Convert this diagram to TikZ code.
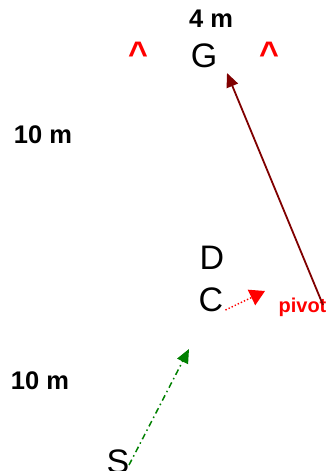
\documentclass[tikz,border=0pt]{standalone}
\usepackage{fontspec}
\setmainfont{Liberation Sans}
\usetikzlibrary{arrows.meta}
\definecolor{maroonc}{RGB}{128,0,0}
\definecolor{greenc}{RGB}{0,128,0}
\definecolor{redc}{RGB}{255,0,0}
\begin{document}
\begin{tikzpicture}[x=1pt,y=-1pt,
  lbl/.style={font=\fontsize{34}{34}\selectfont, inner sep=0pt, text=black},
  dist/.style={font=\bfseries\fontsize{25.5}{25.5}\selectfont, inner sep=0pt},
  caret/.style={font=\bfseries\fontsize{34}{34}\selectfont, inner sep=0pt, text=redc},
  tip/.style={-{Triangle[length=14pt,width=12pt]}}]
\useasboundingbox (0,0) rectangle (328,471);
\node[dist] (d4) at (211,19) {4 m};
\node[lbl] (G) at (204,56) {G};
\node[caret, anchor=north] (c1) at (138,42) {\^{}};
\node[caret, anchor=north] (c2) at (269,42) {\^{}};
\node[dist] (d10a) at (43,135) {10 m};
\node[dist] (d10b) at (40,381) {10 m};
\node[lbl] (D) at (212,258) {D};
\node[lbl] (C) at (211,300) {C};
\node[font=\bfseries\fontsize{20}{20}\selectfont, text=redc, inner sep=0pt] (pv) at (302.5,307) {pivot};
\node[lbl] (S) at (118,462) {S};
\coordinate (cEnd) at (265,291);
\coordinate (gEnd) at (227,73);
\coordinate (pStart) at (323,305);
\coordinate (sStart) at (129,465);
\coordinate (sEnd) at (189,349);
\draw[maroonc, line width=1.8pt, tip] (pStart) -- (gEnd);
\draw[redc, line width=1.4pt, dash pattern=on 1.4pt off 2pt, -{Triangle[length=15pt,width=17pt]}] (C.east) ++(2,10) -- (cEnd);
\draw[greenc, line width=1.5pt, dash pattern=on 6pt off 3.5pt on 1.5pt off 3.5pt, tip] (sStart) -- (sEnd);
\end{tikzpicture}
\end{document}
